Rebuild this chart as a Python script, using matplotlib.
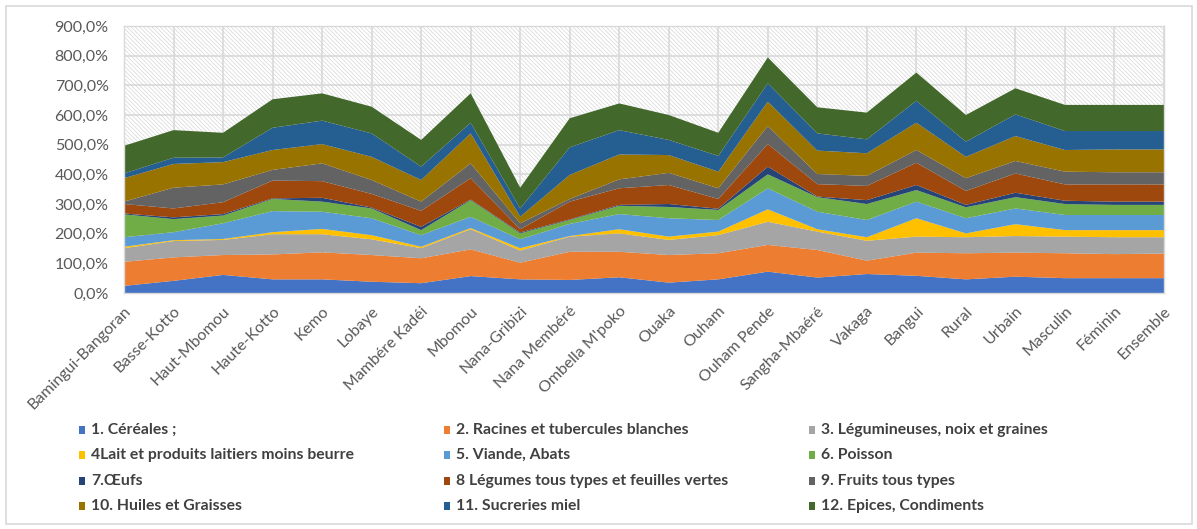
import matplotlib
matplotlib.use("Agg")
import matplotlib.pyplot as plt
from matplotlib.patches import Rectangle
from matplotlib.ticker import FuncFormatter, MultipleLocator

plt.rcParams['font.family'] = ['Lato', 'DejaVu Sans']
plt.rcParams['hatch.linewidth'] = 0.5

categories = ["Bamingui-Bangoran", "Basse-Kotto", "Haut-Mbomou", "Haute-Kotto", "Kemo",
              "Lobaye", "Mambére Kadéi", "Mbomou", "Nana-Gribizi", "Nana Membéré",
              "Ombella M'poko", "Ouaka", "Ouham", "Ouham Pende", "Sangha-Mbaéré",
              "Vakaga", "Bangui", "Rural", "Urbain", "Masculin", "Féminin", "Ensemble"]

series_names = ["1. Céréales ;", "2. Racines et tubercules blanches",
                "3. Légumineuses, noix et graines", "4Lait et produits laitiers moins beurre",
                "5. Viande, Abats", "6. Poisson", "7.Œufs",
                "8 Légumes tous types et feuilles vertes", "9. Fruits tous types",
                "10. Huiles et Graisses", "11. Sucreries miel", "12. Epices, Condiments"]

# Values in percent, one list per food group
cereales = [24, 41, 61, 46, 46, 38, 33, 57, 46, 44, 53, 35, 46, 72, 52, 64, 58, 46, 55, 50, 50, 50]
racines = [81, 79, 67, 84, 91, 90, 84, 90, 56, 95, 86, 93, 88, 90, 93, 45, 78, 88, 81, 84, 81, 83]
legumineuses = [46, 55, 51, 68, 61, 53, 34, 68, 41, 51, 62, 51, 61, 78, 62, 67, 54, 54, 56, 56, 57, 55]
lait = [5, 3, 3, 7, 18, 14, 5, 4, 8, 2, 14, 11, 12, 42, 8, 12, 62, 13, 40, 22, 24, 24]
viande = [32, 27, 53, 71, 58, 57, 39, 38, 30, 41, 51, 62, 39, 71, 59, 58, 56, 51, 53, 51, 51, 51]
poisson = [77, 44, 26, 41, 34, 33, 17, 56, 20, 13, 28, 38, 34, 47, 49, 54, 39, 37, 38, 37, 34, 34]
oeufs = [3, 6, 5, 2, 13, 3, 11, 2, 3, 2, 3, 10, 4, 26, 2, 13, 17, 8, 15, 11, 11, 11]
legumes = [32, 30, 40, 60, 56, 46, 54, 72, 11, 60, 56, 64, 33, 76, 42, 48, 75, 47, 65, 55, 58, 58]
fruits = [8, 70, 60, 36, 60, 47, 31, 50, 20, 9, 30, 41, 36, 61, 34, 34, 43, 43, 42, 43, 41, 41]
huiles = [79, 80, 75, 67, 65, 78, 73, 101, 22, 81, 84, 60, 56, 82, 79, 76, 92, 72, 84, 73, 77, 77]
sucreries = [16, 21, 16, 75, 79, 79, 45, 36, 28, 93, 82, 51, 53, 62, 58, 47, 74, 51, 73, 64, 62, 62]
epices = [93, 93, 83, 96, 92, 90, 90, 99, 70, 98, 90, 84, 78, 87, 88, 90, 95, 90, 88, 88, 88, 88]

colors = ["#4472C4", "#ED7D31", "#A5A5A5", "#FFC000", "#5B9BD5", "#70AD47",
          "#264478", "#9E480E", "#636363", "#997300", "#255E91", "#43682B"]

W, H = 1197, 529
fig = plt.figure(figsize=(W / 100, H / 100), dpi=100)
fig.patch.set_facecolor("white")

# chart area border
fig.add_artist(Rectangle((6 / W, 1 - 524 / H), 1186 / W, 518 / H, transform=fig.transFigure,
                         fill=False, edgecolor="#D9D9D9", lw=1.2))

ax = fig.add_axes([124 / W, 1 - 293 / H, 1040 / W, 267 / H])
ax.set_facecolor("white")

# hatched plot-area background
ax.add_patch(Rectangle((0, 0), 1, 1, transform=ax.transAxes, facecolor="white",
                       edgecolor="#D6D6D6", hatch="\\\\\\\\\\\\\\\\", lw=0, zorder=0.2))

x = list(range(len(categories)))
ys = [cereales, racines, legumineuses, lait, viande, poisson, oeufs,
      legumes, fruits, huiles, sucreries, epices]
ax.stackplot(x, *ys, colors=colors, labels=series_names, lw=0, zorder=1)

ax.set_xlim(0, len(categories) - 1)
ax.set_ylim(0, 900)
ax.yaxis.set_major_locator(MultipleLocator(100))
ax.yaxis.set_major_formatter(FuncFormatter(lambda v, p: f"{v:.1f}%".replace(".", ",")))
ax.set_xticks(x)
ax.set_xticklabels(categories, rotation=45, ha="right", va="top", rotation_mode="anchor",
                   fontsize=11.5, color="#595959")
ax.tick_params(axis="y", labelsize=11.5, labelcolor="#595959", length=0, pad=11)
ax.tick_params(axis="x", length=0, pad=8)
ax.set_axisbelow(True)
ax.grid(True, color="#D9D9D9", lw=1.2)
for s in ax.spines.values():
    s.set_color("#D9D9D9")
    s.set_linewidth(1.0)

# legend laid out in three columns, row by row
col_x = [82, 447, 812]
row_y = [430, 455, 481, 506]
for k, name in enumerate(series_names):
    r, c = divmod(k, 3)
    mx, my = col_x[c], row_y[r]
    fig.add_artist(Rectangle(((mx - 3) / W, 1 - (my + 4) / H), 6 / W, 8 / H,
                             transform=fig.transFigure, facecolor=colors[k], lw=0))
    fig.text((mx + 9) / W, 1 - my / H, name, fontsize=11.3, color="#404040",
             ha="left", va="center", fontweight="bold")

fig.savefig("out.png", dpi=100)
